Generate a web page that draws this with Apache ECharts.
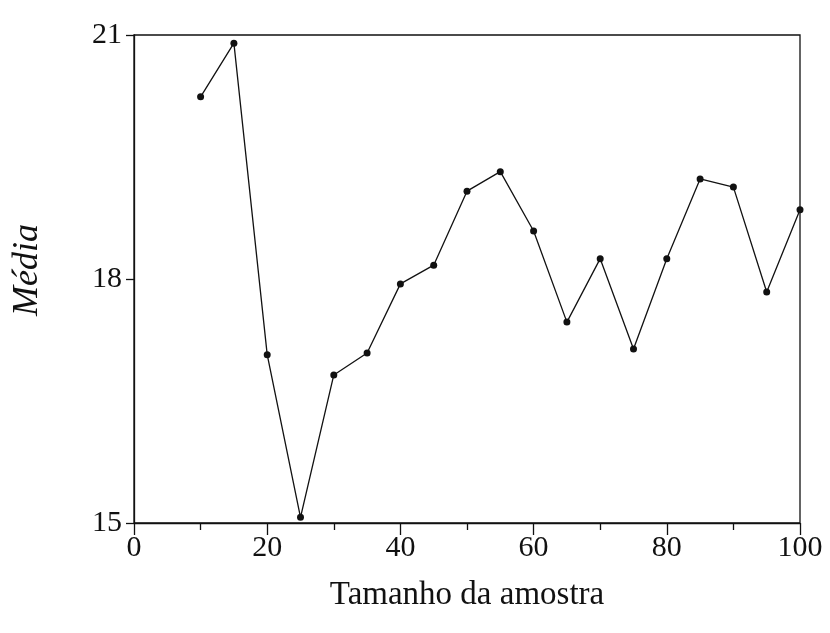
<!DOCTYPE html>
<html>
<head>
<meta charset="utf-8">
<script src="https://cdn.jsdelivr.net/npm/echarts@6/dist/echarts.min.js"></script>
<style>html,body{margin:0;padding:0;background:#fff;}#c{width:830px;height:633px;}</style>
</head>
<body>
<div id="c"></div>
<script>
var sampleSizes = [10, 15, 20, 25, 30, 35, 40, 45, 50, 55, 60, 65, 70, 75, 80, 85, 90, 95, 100];
var means = [20.24, 20.90, 17.07, 15.07, 16.82, 17.09, 17.94, 18.17, 19.08, 19.32, 18.59, 17.47, 18.25, 17.14, 18.25, 19.23, 19.13, 17.84, 18.85];
var yTicks = [15, 18, 21];
var xTicks = [0, 20, 40, 60, 80, 100];

var chart = echarts.init(document.getElementById('c'));
var font = 'Liberation Serif, Times New Roman, serif';
chart.setOption({
  animation: false,
  backgroundColor: '#fff',
  grid: { left: 134, right: 30, top: 35, bottom: 110, show: true, borderColor: '#111', borderWidth: 1.3, backgroundColor: 'transparent' },
  xAxis: {
    type: 'value', min: 0, max: 100, interval: 20,
    name: 'Tamanho da amostra', nameLocation: 'middle', nameGap: 56,
    nameTextStyle: { fontFamily: font, fontSize: 33, color: '#111' },
    axisLine: { show: true, lineStyle: { color: '#111', width: 1.3 } },
    axisTick: { show: true, inside: false, length: 12, lineStyle: { color: '#111', width: 1.3 } },
    minorTick: { show: true, splitNumber: 2, length: 7, lineStyle: { color: '#111', width: 1.3 } },
    splitLine: { show: false },
    axisLabel: { fontFamily: font, fontSize: 30, color: '#111', margin: 10,
      formatter: function (v) { return xTicks.indexOf(v) >= 0 ? String(v) : ''; } }
  },
  yAxis: {
    type: 'value', min: 15, max: 21, interval: 3,
    name: 'Média', nameLocation: 'middle', nameGap: 88, nameRotate: 90,
    nameTextStyle: { fontFamily: font, fontSize: 36, fontStyle: 'italic', color: '#111', padding: [0, 0, 0, 18] },
    axisLine: { show: true, lineStyle: { color: '#111', width: 1.3 } },
    axisTick: { show: true, inside: false, length: 8, lineStyle: { color: '#111', width: 1.3 } },
    splitLine: { show: false },
    axisLabel: { fontFamily: font, fontSize: 30, color: '#111', margin: 12,
      formatter: function (v) { return yTicks.indexOf(v) >= 0 ? String(v) : ''; } }
  },
  series: [{
    type: 'line',
    data: sampleSizes.map(function (x, i) { return [x, means[i]]; }),
    symbol: 'circle', symbolSize: 7,
    itemStyle: { color: '#111' },
    lineStyle: { color: '#111', width: 1.3 },
    clip: false
  }]
});
</script>
</body>
</html>
